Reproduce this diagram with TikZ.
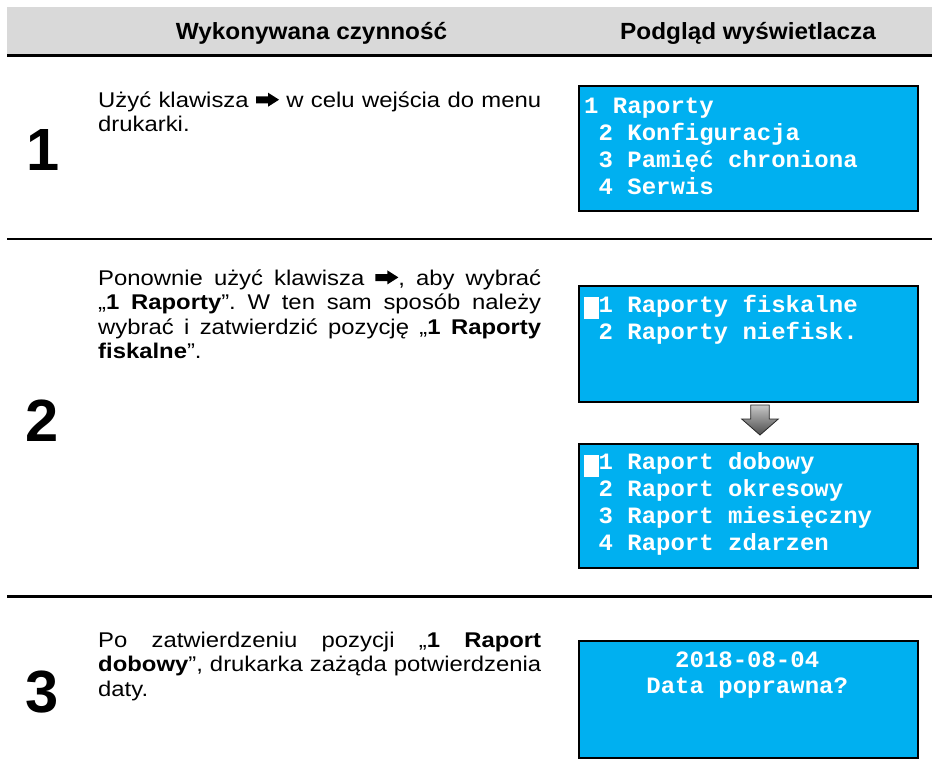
\documentclass[tikz,border=0pt]{standalone}
\usepackage{fontspec}
\setmainfont{Liberation Sans}
\newfontfamily\bodyf[FakeStretch=1.12]{Liberation Sans}
\newfontfamily\hdrf[FakeStretch=1.04]{Liberation Sans}
\newfontfamily\monof[FakeStretch=1.025]{Liberation Mono}
\definecolor{lcdblue}{HTML}{00B0F0}
\definecolor{hdrgray}{HTML}{D9D9D9}
\newcommand\rarr{\tikz[x=1pt,y=1pt,baseline=0pt]\fill[black] (0,4)--(12,4)--(12,0.6)--(23,7.6)--(12,14.6)--(12,11)--(0,11)--cycle;}
\frenchspacing
\begin{document}
\begin{tikzpicture}[x=1pt,y=-1pt,
  lcd/.style={draw=black,line width=2pt,fill=lcdblue,inner sep=0pt,anchor=north west,minimum width=339.2pt},
  lcdtxt/.style={anchor=base west,inner sep=0pt,text=white,font=\monof\bfseries\fontsize{23.4}{27}\selectfont},
  lcdctr/.style={anchor=base,inner sep=0pt,text=white,font=\monof\bfseries\fontsize{23.4}{27}\selectfont},
  cursorbox/.style={fill=white,draw=none},
  hdr/.style={anchor=base,inner sep=0pt,font=\hdrf\bfseries\fontsize{23.4}{27}\selectfont},
  para/.style={anchor=base west,inner sep=0pt,font=\bodyf\fontsize{21.3}{24.5}\selectfont\frenchspacing},
  digit/.style={anchor=base west,inner sep=0pt,font=\bfseries\fontsize{59.6}{60}\selectfont},
  sep/.style={line width=2.5pt,black},
  downarrow/.style={draw=black!85,line width=0.8pt,top color=black!22,bottom color=black!70}
]
\useasboundingbox (0,0) rectangle (932,782);
% header
\fill[hdrgray] (7,7) rectangle (932,54);
\draw[line width=3.5pt] (7,55.5) -- (932,55.5);
\node[hdr] (h1) at (311.5,39.3) {Wykonywana czynność};
\node[hdr] (h2) at (748,39.3) {Podgląd wyświetlacza};
% separators
\draw[sep] (7,238.8) -- (932,238.8);
\draw[sep] (7,596.5) -- (932,596.5);
% step digits
\node[digit] (d1) at (26,170) {1};
\node[digit] (d2) at (25,441) {2};
\node[digit] (d3) at (25,712.5) {3};
% paragraphs
\node[para] (p1) at (98,107.3) {\parbox[t]{443pt}{\tolerance=10000\hbadness=10000
Użyć klawisza \rarr{} w celu wejścia do menu\linebreak drukarki.}};
\node[para] (p2) at (98,285) {\parbox[t]{443pt}{\tolerance=10000\hbadness=10000
Ponownie użyć klawisza \rarr, aby wybrać\linebreak
„\textbf{1 Raporty}”. W ten sam sposób należy\linebreak
wybrać i zatwierdzić pozycję „\textbf{1 Raporty}\linebreak
\textbf{fiskalne}”.}};
\node[para] (p3) at (98,647.3) {\parbox[t]{443pt}{\tolerance=10000\hbadness=10000
Po zatwierdzeniu pozycji „\textbf{1 Raport}\linebreak
\textbf{dobowy}”, drukarka zażąda potwierdzenia\linebreak
daty.}};
% display 1
\node[lcd,minimum height=124.5pt] (s1) at (577.5,85) {};
\node[lcdtxt] (s1a) at (584,113) {1 Raporty};
\node[lcdtxt] (s1b) at (598.4,140) {2 Konfiguracja};
\node[lcdtxt] (s1c) at (598.4,167) {3 Pamięć chroniona};
\node[lcdtxt] (s1d) at (598.4,194) {4 Serwis};
% display 2
\node[lcd,minimum height=115.5pt] (s2) at (577.5,285) {};
\fill[cursorbox] (584,297) rectangle (598.5,318.5);
\node[lcdtxt] (s2a) at (598.4,312) {1 Raporty fiskalne};
\node[lcdtxt] (s2b) at (598.4,339) {2 Raporty niefisk.};
% arrow
\draw[downarrow] (750.7,405) -- (769.3,405) -- (769.3,419) -- (778.3,419) -- (760,435) -- (741.7,419) -- (750.7,419) -- cycle;
% display 3
\node[lcd,minimum height=124pt] (s3) at (577.5,442.5) {};
\fill[cursorbox] (584,455) rectangle (598.5,477.3);
\node[lcdtxt] (s3a) at (598.4,469.3) {1 Raport dobowy};
\node[lcdtxt] (s3b) at (598.4,496.3) {2 Raport okresowy};
\node[lcdtxt] (s3c) at (598.4,523.3) {3 Raport miesięczny};
\node[lcdtxt] (s3d) at (598.4,550.5) {4 Raport zdarzen};
% display 4
\node[lcd,minimum height=116.5pt] (s4) at (577.5,640) {};
\node[lcdctr] (s4a) at (747.2,667.3) {2018-08-04};
\node[lcdctr] (s4b) at (747.2,693.3) {Data poprawna?};
\end{tikzpicture}
\end{document}
